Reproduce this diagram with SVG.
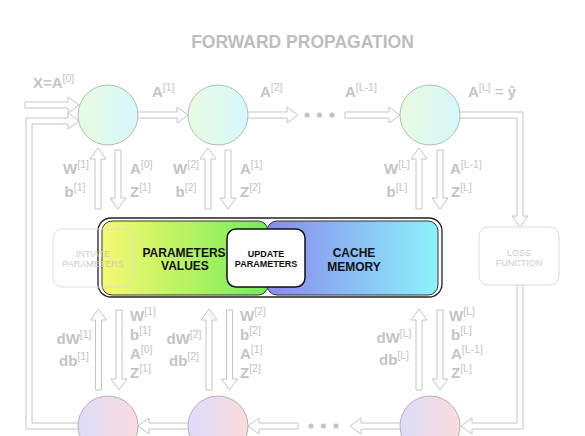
<svg xmlns="http://www.w3.org/2000/svg" width="585" height="436" viewBox="0 0 585 436">
<defs>
<linearGradient id="gTop" x1="0" y1="0" x2="1" y2="0"><stop offset="0" stop-color="#e8fbe0"/><stop offset="1" stop-color="#d6f7fc"/></linearGradient>
<linearGradient id="gBot" x1="0" y1="0" x2="1" y2="0"><stop offset="0" stop-color="#dcdcfa"/><stop offset="1" stop-color="#fbdcdc"/></linearGradient>
<linearGradient id="gGreen" x1="0" y1="0" x2="1" y2="0"><stop offset="0" stop-color="#f6f872"/><stop offset="0.5" stop-color="#b8f262"/><stop offset="1" stop-color="#72ec5c"/></linearGradient>
<linearGradient id="gBlue" x1="0" y1="0" x2="1" y2="0"><stop offset="0" stop-color="#8a88ee"/><stop offset="1" stop-color="#8cf2fa"/></linearGradient>
<style>
.arr{fill:#fff;stroke:#c4c4c4;stroke-width:1}
.dot{fill:#c4c4c4}
.lbl{font-family:"Liberation Sans",Arial,sans-serif;font-weight:bold;font-size:15px;fill:#c4c4c4}
.sup{font-size:10.5px;font-weight:normal}
.ctop{fill:url(#gTop);stroke:#a9c1b4;stroke-width:1}
.cbot{fill:url(#gBot);stroke:#b9adb9;stroke-width:1}
.small{font-family:"Liberation Sans",Arial,sans-serif;font-size:9px;fill:#cccccc;text-anchor:middle}
.ghost{fill:none;stroke:#dddddd;stroke-width:1}
.dark{font-family:"Liberation Sans",Arial,sans-serif;font-weight:bold;fill:#111;text-anchor:middle}
</style>
</defs>
<rect width="585" height="436" fill="#fff"/>
<text x="302.5" y="48" text-anchor="middle" font-family="'Liberation Sans',Arial,sans-serif" font-weight="bold" font-size="17.5" fill="#bdbdbd">FORWARD PROPAGATION</text>

<g id="connectors">
<!-- forward inputs -->
<polygon class="arr" points="25,102 68,102 68,97 79,105 68,113 68,108 25,108"/>
<polygon class="arr" points="81,423 32,423 32,124 68,124 68,129 79,121 68,113 68,118 26,118 26,429 81,429"/>
<polygon class="arr" points="135,112 177,112 177,107 188,115 177,123 177,118 135,118"/>
<polygon class="arr" points="245,112 287,112 287,107 298,115 287,123 287,118 245,118"/>
<polygon class="arr" points="345,112 389,112 389,107 400,115 389,123 389,118 345,118"/>
<polygon class="arr" points="455,112 523,112 523,216 528,216 520,227 512,216 517,216 517,118 455,118"/>
<polygon class="arr" points="517,285 523,285 523,429 472,429 472,434 461,426 472,418 472,423 517,423"/>
<!-- backward -->
<polygon class="arr" points="403,423 361,423 361,418 350,426 361,434 361,429 403,429"/>
<polygon class="arr" points="298,423 259,423 259,418 248,426 259,434 259,429 298,429"/>
<polygon class="arr" points="191,423 149,423 149,418 138,426 149,434 149,429 191,429"/>
<!-- top verticals -->
<polygon class="arr" points="95,209 95,159 90,159 98,148 106,159 101,159 101,209"/>
<polygon class="arr" points="115,150 121,150 121,198 126,198 118,209 110,198 115,198"/>
<polygon class="arr" points="205,209 205,159 200,159 208,148 216,159 211,159 211,209"/>
<polygon class="arr" points="225,150 231,150 231,198 236,198 228,209 220,198 225,198"/>
<polygon class="arr" points="416,209 416,159 411,159 419,148 427,159 422,159 422,209"/>
<polygon class="arr" points="437,150 443,150 443,198 448,198 440,209 432,198 437,198"/>
<!-- bottom verticals -->
<polygon class="arr" points="95.5,390 95.5,320 90.5,320 98.5,309 106.5,320 101.5,320 101.5,390"/>
<polygon class="arr" points="116,310 122,310 122,379 127,379 119,390 111,379 116,379"/>
<polygon class="arr" points="206,390 206,320 201,320 209,309 217,320 212,320 212,390"/>
<polygon class="arr" points="226.5,310 232.5,310 232.5,379 237.5,379 229.5,390 221.5,379 226.5,379"/>
<polygon class="arr" points="416,390 416,320 411,320 419,309 427,320 422,320 422,390"/>
<polygon class="arr" points="437,310 443,310 443,379 448,379 440,390 432,379 437,379"/>
<!-- dots -->
<circle class="dot" cx="307" cy="115" r="2.6"/><circle class="dot" cx="319.5" cy="115" r="2.6"/><circle class="dot" cx="332" cy="115" r="2.6"/>
<circle class="dot" cx="311" cy="426" r="2.6"/><circle class="dot" cx="323.5" cy="426" r="2.6"/><circle class="dot" cx="336" cy="426" r="2.6"/>
</g>

<g id="f1"><circle class="ctop" cx="108" cy="115" r="30"/></g>
<g id="f2"><circle class="ctop" cx="218" cy="115" r="30"/></g>
<g id="fL"><circle class="ctop" cx="430" cy="115" r="30"/></g>
<g id="b1"><circle class="cbot" cx="108" cy="426" r="30"/></g>
<g id="b2"><circle class="cbot" cx="218" cy="426" r="30"/></g>
<g id="bL"><circle class="cbot" cx="430" cy="426" r="30"/></g>

<g id="loss">
<rect x="479" y="227" width="80" height="58" rx="9" fill="#fff" stroke="#dddddd"/>
<text class="small" x="519" y="256">LOSS</text>
<text class="small" x="519" y="266">FUNCTION</text>
</g>

<g id="panel">
<rect x="98" y="218" width="344" height="79" rx="13" fill="#fff" stroke="#222" stroke-width="1.3"/>
<rect x="102" y="221" width="166" height="74" rx="10" fill="url(#gGreen)" stroke="#333" stroke-width="1"/>
<rect x="267" y="221" width="171" height="74" rx="10" fill="url(#gBlue)" stroke="#333" stroke-width="1"/>
<text class="dark" x="184" y="257" font-size="12">PARAMETERS</text>
<text class="dark" x="185" y="270" font-size="12">VALUES</text>
<text class="dark" x="354" y="257" font-size="12">CACHE</text>
<text class="dark" x="354" y="270.5" font-size="12">MEMORY</text>
</g>
<g id="update">
<rect x="227" y="229" width="78" height="58" rx="9" fill="#fff" stroke="#111" stroke-width="1.5"/>
<text class="dark" x="266" y="257" font-size="9">UPDATE</text>
<text class="dark" x="266" y="267" font-size="9">PARAMETERS</text>
</g>
<g id="init">
<rect class="ghost" x="53" y="229" width="80" height="58" rx="9"/>
<text class="small" x="93" y="256.5">INTIATE</text>
<text class="small" x="93" y="266.5">PARAMETERS</text>
</g>

<g id="labels">
<text class="lbl" x="33" y="88">X=A<tspan class="sup" dy="-6">[0]</tspan></text>
<text class="lbl" x="152" y="97">A<tspan class="sup" dy="-6">[1]</tspan></text>
<text class="lbl" x="260" y="97">A<tspan class="sup" dy="-6">[2]</tspan></text>
<text class="lbl" x="345" y="97">A<tspan class="sup" dy="-6">[L-1]</tspan></text>
<text class="lbl" x="468" y="97">A<tspan class="sup" dy="-6">[L]</tspan><tspan font-weight="normal" dy="6"> = </tspan><tspan>ŷ</tspan></text>

<text class="lbl" x="76" y="174" text-anchor="middle">W<tspan class="sup" dy="-6">[1]</tspan></text>
<text class="lbl" x="75" y="197" text-anchor="middle">b<tspan class="sup" dy="-6">[1]</tspan></text>
<text class="lbl" x="130" y="174">A<tspan class="sup" dy="-6">[0]</tspan></text>
<text class="lbl" x="130" y="197">Z<tspan class="sup" dy="-6">[1]</tspan></text>
<text class="lbl" x="186" y="174" text-anchor="middle">W<tspan class="sup" dy="-6">[2]</tspan></text>
<text class="lbl" x="186" y="197" text-anchor="middle">b<tspan class="sup" dy="-6">[2]</tspan></text>
<text class="lbl" x="240" y="174">A<tspan class="sup" dy="-6">[1]</tspan></text>
<text class="lbl" x="240" y="197">Z<tspan class="sup" dy="-6">[2]</tspan></text>
<text class="lbl" x="397" y="174" text-anchor="middle">W<tspan class="sup" dy="-6">[L]</tspan></text>
<text class="lbl" x="397" y="197" text-anchor="middle">b<tspan class="sup" dy="-6">[L]</tspan></text>
<text class="lbl" x="450" y="174">A<tspan class="sup" dy="-6">[L-1]</tspan></text>
<text class="lbl" x="451" y="197">Z<tspan class="sup" dy="-6">[L]</tspan></text>

<text class="lbl" x="74" y="344" text-anchor="middle">dW<tspan class="sup" dy="-6">[1]</tspan></text>
<text class="lbl" x="74" y="366" text-anchor="middle">db<tspan class="sup" dy="-6">[1]</tspan></text>
<text class="lbl" x="130" y="321">W<tspan class="sup" dy="-6">[1]</tspan></text>
<text class="lbl" x="130" y="340">b<tspan class="sup" dy="-6">[1]</tspan></text>
<text class="lbl" x="130" y="359">A<tspan class="sup" dy="-6">[0]</tspan></text>
<text class="lbl" x="130" y="378">Z<tspan class="sup" dy="-6">[1]</tspan></text>
<text class="lbl" x="184" y="344" text-anchor="middle">dW<tspan class="sup" dy="-6">[2]</tspan></text>
<text class="lbl" x="184" y="366" text-anchor="middle">db<tspan class="sup" dy="-6">[2]</tspan></text>
<text class="lbl" x="240" y="321">W<tspan class="sup" dy="-6">[2]</tspan></text>
<text class="lbl" x="240" y="340">b<tspan class="sup" dy="-6">[2]</tspan></text>
<text class="lbl" x="240" y="359">A<tspan class="sup" dy="-6">[1]</tspan></text>
<text class="lbl" x="240" y="378">Z<tspan class="sup" dy="-6">[2]</tspan></text>
<text class="lbl" x="394" y="343" text-anchor="middle">dW<tspan class="sup" dy="-6">[L]</tspan></text>
<text class="lbl" x="394" y="365" text-anchor="middle">db<tspan class="sup" dy="-6">[L]</tspan></text>
<text class="lbl" x="449" y="321">W<tspan class="sup" dy="-6">[L]</tspan></text>
<text class="lbl" x="451" y="340">b<tspan class="sup" dy="-6">[L]</tspan></text>
<text class="lbl" x="451" y="359">A<tspan class="sup" dy="-6">[L-1]</tspan></text>
<text class="lbl" x="451" y="378">Z<tspan class="sup" dy="-6">[L]</tspan></text>
</g>
</svg>
